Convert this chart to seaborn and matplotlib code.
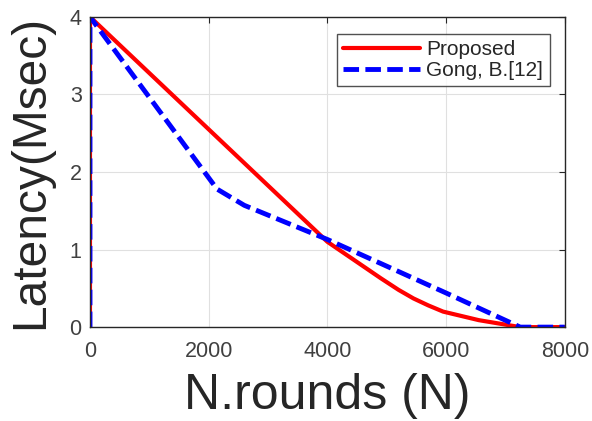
import matplotlib
matplotlib.use("Agg")
import matplotlib.pyplot as plt
import seaborn as sns
import pandas as pd

rounds_proposed = [0, 0, 2000, 4000, 4900, 5200, 5450, 5700, 5950, 6550, 7250, 8000]
latency_proposed = [0, 4.0, 2.55, 1.1, 0.63, 0.48, 0.37, 0.28, 0.2, 0.09, 0.0, 0.0]
rounds_gong = [0, 0, 2140, 2600, 4000, 4900, 6000, 7250, 8000]
latency_gong = [0, 4.0, 1.78, 1.57, 1.13, 0.82, 0.44, 0.0, 0.0]
labels = ["Proposed", "Gong, B.[12]"]
xticks = [0, 2000, 4000, 6000, 8000]
yticks = [0, 1, 2, 3, 4]

sns.set_theme(style="whitegrid")
plt.rcParams['font.family'] = ['Liberation Sans', 'DejaVu Sans']

df = pd.concat([
    pd.DataFrame({"x": rounds_proposed, "y": latency_proposed, "s": labels[0]}),
    pd.DataFrame({"x": rounds_gong, "y": latency_gong, "s": labels[1]}),
])

fig = plt.figure(figsize=(5.92, 4.21), dpi=100)
ax = fig.add_axes([0.152, 0.223, 0.802, 0.737])
ax.set_facecolor("white")

sns.lineplot(data=df[df.s == labels[0]], x="x", y="y", sort=False, color="#ff0000",
             lw=3, label=labels[0], ax=ax, estimator=None)
sns.lineplot(data=df[df.s == labels[1]], x="x", y="y", sort=False, color="#0000ff",
             lw=3.5, label=labels[1], ax=ax, estimator=None)
ax.lines[1].set_linestyle((0, (3.2, 1.3)))

ax.set_xlim(0, 8000)
ax.set_ylim(0, 4)
ax.set_xticks(xticks)
ax.set_yticks(yticks)
ax.grid(True, color="#e0e0e0", lw=0.8)
for sp in ax.spines.values():
    sp.set_color("#262626")
    sp.set_linewidth(1)
    sp.set_visible(True)
ax.tick_params(direction="in", length=4, top=True, right=True, colors="#262626",
               labelsize=15.5, width=0.8)
ax.tick_params(axis="x", pad=10)
ax.tick_params(axis="y", pad=6)
for lab in ax.get_xticklabels() + ax.get_yticklabels():
    lab.set_color("#404040")

ax.set_xlabel("N.rounds (N)", fontsize=36, color="#262626", labelpad=8)
ax.set_ylabel("Latency(Msec)", fontsize=34.5, color="#262626", labelpad=12)

leg = ax.legend(loc="upper right", fontsize=15, frameon=True, fancybox=False,
                edgecolor="#262626", handlelength=3.7, handletextpad=0.3,
                borderpad=0.3, borderaxespad=0,
                bbox_to_anchor=(0.968, 0.945), labelspacing=0.1)
leg.get_frame().set_linewidth(1)

fig.savefig("out.png", dpi=100)
